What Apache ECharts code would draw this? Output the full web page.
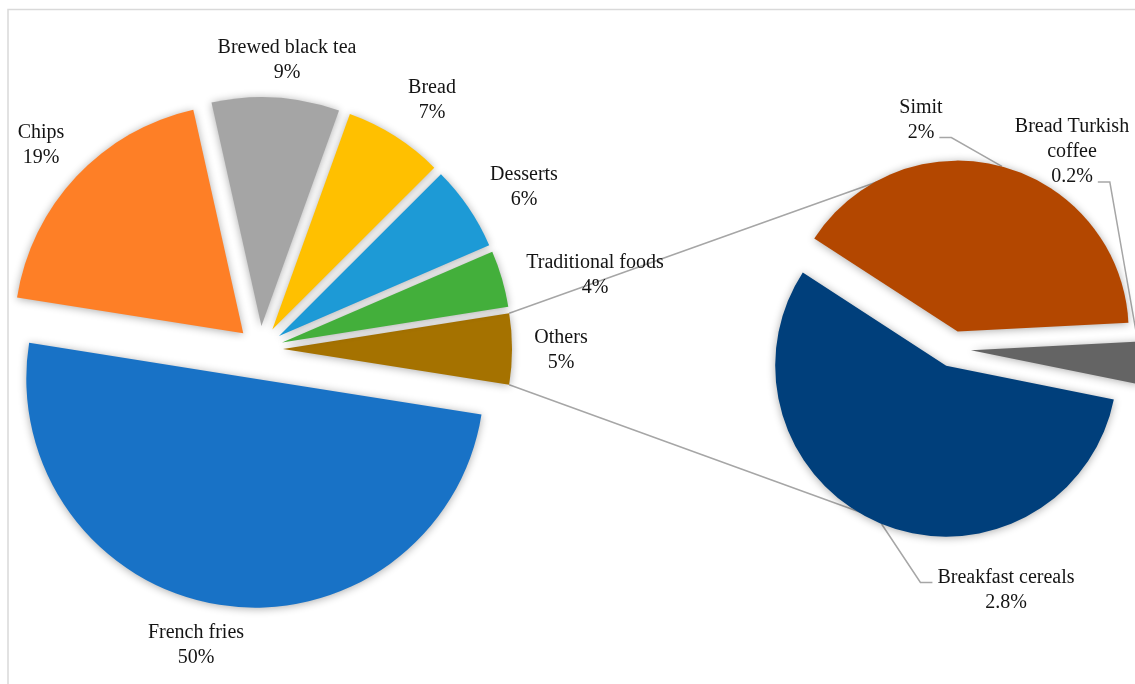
<!DOCTYPE html>
<html>
<head>
<meta charset="utf-8">
<script src="https://cdn.jsdelivr.net/npm/echarts@6/dist/echarts.min.js"></script>
<style>
  html, body { margin: 0; padding: 0; background: #ffffff; }
  #chart { width: 1135px; height: 684px; }
</style>
</head>
<body>
<div id="chart"></div>
<script>
// Shares of consumption (%), main pie. "Others" is broken down in the second pie.
const mainCategories = ['Others', 'French fries', 'Chips', 'Brewed black tea', 'Bread', 'Desserts', 'Traditional foods'];
const mainValues = [5, 50, 19, 9, 7, 6, 4];

// Breakdown of "Others" (% of total)
const subCategories = ['Simit', 'Bread Turkish coffee', 'Breakfast cereals'];
const subValues = [2, 0.2, 2.8];

// ---- styling / layout ----
const mainColors = ['#A57200', '#1872C6', '#FE7F26', '#A5A5A5', '#FFC000', '#1D9AD6', '#43AF3B'];
const subColors = ['#B34700', '#646464', '#003F7B'];

const FONT = '"Liberation Serif", "Times New Roman", serif';
const FONT_SIZE = 20;
const LINE_H = 25;
const TEXT_COLOR = '#141414';
const GUIDE_COLOR = '#A6A6A6';
const GUIDE_WIDTH = 1.5;

const mainGeo = { cx: 260, cy: 349, r: 229, explode: 23 };
const mainExplodeOverride = { 'French fries': 30 };
const subGeo = { cx: 953, cy: 349, r: 171, explode: 18, startAngle: 147, wrap: 145 };

// label block centres
const mainLabelPos = {
  'Others': [561, 350],
  'French fries': [196, 645],
  'Chips': [41, 145],
  'Brewed black tea': [287, 60],
  'Bread': [432, 100],
  'Desserts': [524, 187],
  'Traditional foods': [595, 275]
};
const subLabelPos = {
  'Simit': [921, 120],
  'Bread Turkish coffee': [1072, 152],
  'Breakfast cereals': [1006, 590]
};

// series lines joining the "Others" slice to the second pie (polar around its centre)
const seriesLineEnds = { top: { r: 183, angle: 108 }, bottom: { r: 186, angle: 244 } };

// ---- helpers ----
const sum = (arr) => arr.reduce((a, b) => a + b, 0);

function polar(c, r, deg) {
  const a = deg * Math.PI / 180;
  return [c[0] + r * Math.cos(a), c[1] - r * Math.sin(a)];
}

// start / end / mid angle of every slice, clockwise from `start` (degrees, 0 = 3 o'clock)
function sliceAngles(values, start) {
  const total = sum(values);
  let a = start;
  return values.map(v => {
    const span = v / total * 360;
    const s = a;
    a -= span;
    return { start: s, end: a, mid: s - span / 2 };
  });
}

const measureCtx = document.createElement('canvas').getContext('2d');
measureCtx.font = FONT_SIZE + 'px ' + FONT;
const textWidth = (t) => measureCtx.measureText(t).width;

function wrapWords(text, maxW) {
  const words = text.split(' ');
  const lines = [];
  let cur = '';
  for (const w of words) {
    const t = cur ? cur + ' ' + w : w;
    if (cur && textWidth(t) > maxW) { lines.push(cur); cur = w; } else { cur = t; }
  }
  if (cur) lines.push(cur);
  return lines;
}

// "Others" is centred on the right-hand side, facing the second pie
const mainStart = mainValues[0] / sum(mainValues) * 180;
const mainAngles = sliceAngles(mainValues, mainStart);
const subAngles = sliceAngles(subValues, subGeo.startAngle);

// One pie series per slice so every slice can be pulled out along its own bisector.
function explodedPie(cfg) {
  return cfg.names.map((name, i) => {
    const ang = cfg.angles[i];
    const centre = polar([cfg.geo.cx, cfg.geo.cy], cfg.explode(name), ang.mid);
    return {
      type: 'pie',
      center: centre,
      radius: cfg.geo.r,
      startAngle: cfg.start,
      clockwise: true,
      silent: true,
      animation: false,
      avoidLabelOverlap: false,
      emphasis: { disabled: true },
      itemStyle: { borderWidth: 0, borderRadius: 0 },
      label: {
        position: 'outside',
        fontFamily: FONT,
        fontSize: FONT_SIZE,
        lineHeight: LINE_H,
        color: TEXT_COLOR,
        formatter: () => cfg.lines(i).join('\n')
      },
      labelLine: { show: !!cfg.guide, smooth: false, lineStyle: { color: GUIDE_COLOR, width: GUIDE_WIDTH } },
      data: cfg.names.map((n, j) => ({
        name: n,
        value: cfg.values[j],
        itemStyle: j === i
          ? { color: cfg.colors[j], shadowBlur: 9, shadowColor: 'rgba(0,0,0,0.33)', shadowOffsetY: 1 }
          : { color: 'rgba(0,0,0,0)', shadowBlur: 0 },
        label: { show: j === i },
        labelLine: { show: !!cfg.guide && j === i }
      })),
      labelLayout: (p) => {
        if (p.dataIndex !== i) return {};
        const [lx, ly] = cfg.labelPos[name];
        const out = { x: lx, y: ly, align: 'center', verticalAlign: 'middle' };
        if (cfg.guide) {
          const lines = cfg.lines(i);
          const h = lines.length * LINE_H;
          const arc = polar(centre, cfg.geo.r, ang.mid);
          const below = arc[1] > ly;
          const line = below ? lines[lines.length - 1] : lines[0];
          const yy = below ? ly + h / 2 - LINE_H / 2 + 5 : ly - h / 2 + LINE_H / 2 + 5;
          const half = textWidth(line) / 2;
          const toRight = arc[0] > lx;
          const endX = toRight ? lx + half + 5 : lx - half - 5;
          const elbowX = toRight ? endX + 12 : endX - 12;
          out.labelLinePoints = [arc, [elbowX, yy], [endX, yy]];
        }
        return out;
      }
    };
  });
}

const mainSeries = explodedPie({
  names: mainCategories,
  values: mainValues,
  colors: mainColors,
  angles: mainAngles,
  start: mainStart,
  geo: mainGeo,
  explode: (n) => mainExplodeOverride[n] != null ? mainExplodeOverride[n] : mainGeo.explode,
  labelPos: mainLabelPos,
  lines: (i) => [mainCategories[i], mainValues[i] + '%'],
  guide: false
});

const subSeries = explodedPie({
  names: subCategories,
  values: subValues,
  colors: subColors,
  angles: subAngles,
  start: subGeo.startAngle,
  geo: subGeo,
  explode: () => subGeo.explode,
  labelPos: subLabelPos,
  lines: (i) => wrapWords(subCategories[i], subGeo.wrap).concat([subValues[i] + '%']),
  guide: true
});

// connector lines from the corners of the "Others" slice
const othersAng = mainAngles[0];
const othersCentre = polar([mainGeo.cx, mainGeo.cy], mainGeo.explode, othersAng.mid);
const pTop = polar(othersCentre, mainGeo.r, othersAng.start);
const pBot = polar(othersCentre, mainGeo.r, othersAng.end);
const qTop = polar([subGeo.cx, subGeo.cy], seriesLineEnds.top.r, seriesLineEnds.top.angle);
const qBot = polar([subGeo.cx, subGeo.cy], seriesLineEnds.bottom.r, seriesLineEnds.bottom.angle);

const chart = echarts.init(document.getElementById('chart'), null, { renderer: 'canvas', width: 1135, height: 684 });
chart.setOption({
  animation: false,
  backgroundColor: '#ffffff',
  graphic: {
    elements: [
      { type: 'rect', z: 0, silent: true,
        shape: { x: 8, y: 9.5, width: 1400, height: 1000 },
        style: { fill: 'none', stroke: '#D9D9D9', lineWidth: 1.5 } },
      { type: 'line', z: 0, silent: true,
        shape: { x1: pTop[0], y1: pTop[1], x2: qTop[0], y2: qTop[1] },
        style: { stroke: GUIDE_COLOR, lineWidth: GUIDE_WIDTH } },
      { type: 'line', z: 0, silent: true,
        shape: { x1: pBot[0], y1: pBot[1], x2: qBot[0], y2: qBot[1] },
        style: { stroke: GUIDE_COLOR, lineWidth: GUIDE_WIDTH } }
    ]
  },
  series: mainSeries.concat(subSeries)
});
</script>
</body>
</html>
